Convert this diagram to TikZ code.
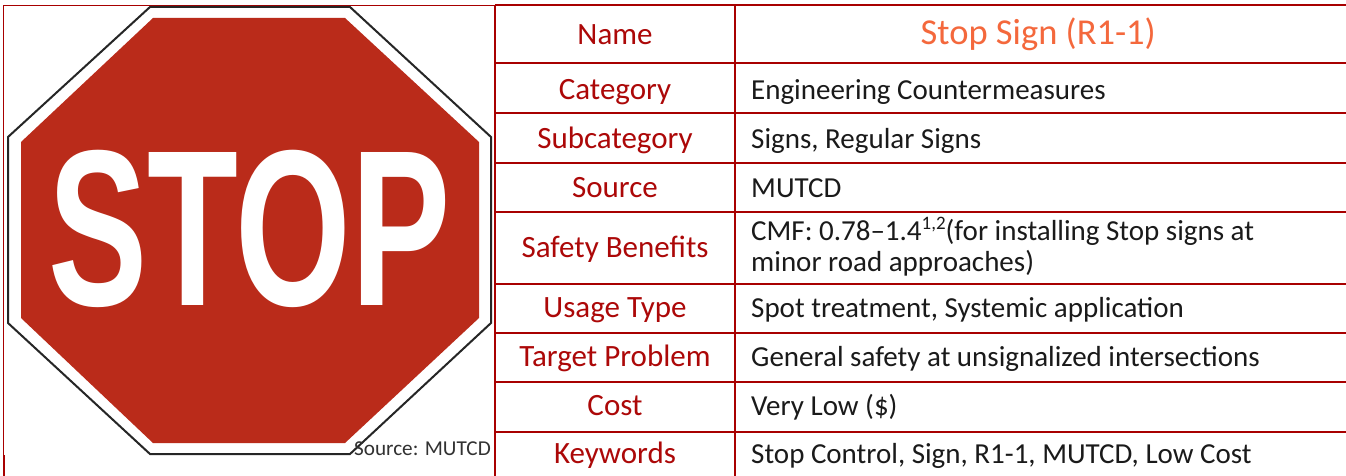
\documentclass[tikz,border=0pt]{standalone}
\usepackage{fontspec}
\setmainfont{Carlito}
\newfontfamily\stopfont{Liberation Sans}
\usepackage{graphicx}
\definecolor{tblline}{RGB}{168,0,0}
\definecolor{lblred}{RGB}{172,8,8}
\definecolor{hdrorange}{RGB}{244,104,60}
\definecolor{signred}{RGB}{186,43,26}
\definecolor{valtext}{RGB}{26,26,26}
\definecolor{srcgray}{RGB}{50,50,50}
\newcommand{\supnum}[1]{\raisebox{0.36em}{\fontsize{19}{20}\selectfont #1}}
\tikzset{
  lbl/.style={anchor=base, text=lblred, font=\fontsize{31}{36}\selectfont, inner sep=0pt},
  val/.style={anchor=base west, text=valtext, font=\fontsize{29}{32}\selectfont, inner sep=0pt},
  hdr/.style={anchor=base west, text=hdrorange, font=\fontsize{36.5}{40}\selectfont, inner sep=0pt},
  thick line/.style={draw=tblline, line width=2pt},
  thin line/.style={draw=tblline, line width=1pt},
}
\begin{document}
\begin{tikzpicture}[x=1pt,y=-1pt]
\useasboundingbox (0,0) rectangle (1346,476);
\fill[white] (0,0) rectangle (1346,476);
% image cell border
\draw[thin line] (3.5,476) -- (3.5,5.5) -- (495,5.5);
\draw[draw=tblline, line width=2.5pt] (4,455) -- (4,476);
% stop sign
\filldraw[fill=white, draw=black!85, line width=2pt]
  (150,7) -- (350,7) -- (491,137) -- (491,323) -- (350,454) -- (150,454) -- (8,323) -- (8,137) -- cycle;
\fill[signred]
  (153,18) -- (345,18) -- (479,142) -- (479,318) -- (345,443) -- (153,443) -- (21,318) -- (21,142) -- cycle;
\node[anchor=south west, inner sep=0pt, text=white] (stop) at (48,308)
  {\resizebox{402pt}{155pt}{\stopfont\bfseries STOP}};
\node[anchor=base east, inner sep=0pt, text=srcgray, font=\fontsize{21.2}{24}\selectfont] (src) at (491,455) {Source: MUTCD};
% table grid
\draw[thick line] (495,5.5) -- (1346,5.5);
\foreach \yy in {63.3,112.7,162.7,211.7,283.5,332.7,381.7,431.7}
  \draw[thick line] (495,\yy) -- (1346,\yy);
\draw[thick line] (495,5.5) -- (495,476);
\draw[thick line] (735,5.5) -- (735,476);
% labels
\node[lbl] (lname) at (615,45) {Name};
\node[lbl] (lcat) at (615,99.3) {Category};
\node[lbl] (lsub) at (615,148) {Subcategory};
\node[lbl] (lsrc) at (615,197) {Source};
\node[lbl] (lsafe) at (615,257) {Safety Benefits};
\node[lbl] (luse) at (615,317.3) {Usage Type};
\node[lbl] (ltgt) at (615,366.7) {Target Problem};
\node[lbl] (lcost) at (615,415) {Cost};
\node[lbl] (lkey) at (615,463.5) {Keywords};
% values
\node[hdr] (vname) at (920.5,45) {Stop Sign (R1-1)};
\node[val] (vcat) at (751,99.3) {Engineering Countermeasures};
\node[val] (vsub) at (751,148) {Signs, Regular Signs};
\node[val] (vsrc) at (751,197) {MUTCD};
\node[val] (vsafe1) at (751,240) {CMF: 0.78–1.4\supnum{1,2}(for installing Stop signs at};
\node[val] (vsafe2) at (751,271.7) {minor road approaches)};
\node[val] (vuse) at (751,317.3) {Spot treatment, Systemic application};
\node[val] (vtgt) at (751,366.7) {General safety at unsignalized intersections};
\node[val] (vcost) at (751,415) {Very Low (\$)};
\node[val] (vkey) at (751,463.5) {Stop Control, Sign, R1-1, MUTCD, Low Cost};
\end{tikzpicture}
\end{document}
